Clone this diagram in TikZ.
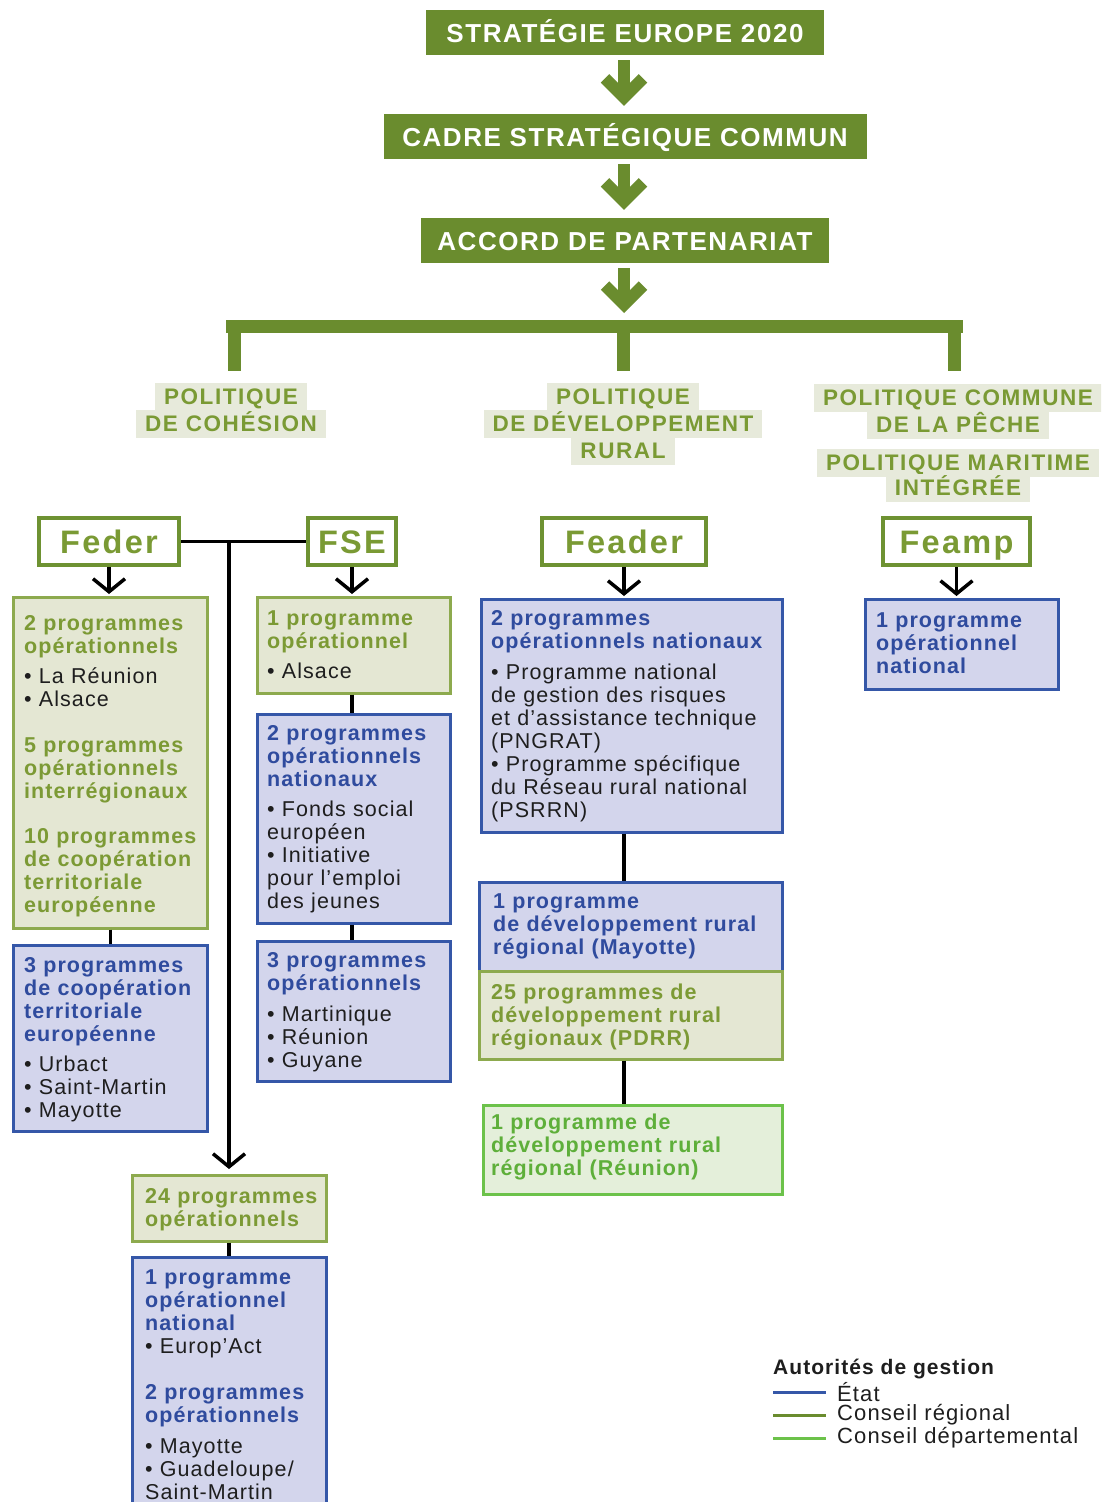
\documentclass[tikz,border=0pt]{standalone}
\usepackage{fontspec}
\setmainfont{Liberation Sans}
\newfontfamily\trk[LetterSpace=5]{Liberation Sans}
\newfontfamily\hdrf[LetterSpace=6]{Liberation Sans}
\newfontfamily\polf[LetterSpace=7]{Liberation Sans}
\usetikzlibrary{arrows.meta}
\definecolor{hdr}{HTML}{6A8C2E}
\definecolor{gtxt}{HTML}{7A9A34}
\definecolor{polbg}{HTML}{E7EADB}
\definecolor{fundline}{HTML}{6E9232}
\definecolor{regfill}{HTML}{E4E7D3}
\definecolor{regline}{HTML}{8DAA4E}
\definecolor{regtxt}{HTML}{7C9A35}
\definecolor{bluefill}{HTML}{D3D5EC}
\definecolor{blueline}{HTML}{3557A8}
\definecolor{bluetxt}{HTML}{2F4B9E}
\definecolor{depfill}{HTML}{E4EFDA}
\definecolor{depline}{HTML}{6CC24A}
\definecolor{deptxt}{HTML}{5EAF3A}
\definecolor{itemtxt}{HTML}{1E1E1E}
\newcommand\bxf{\trk\fontsize{21.5}{23}\selectfont}
\newcommand\regh[1]{{\color{regtxt}\bfseries #1}}
\newcommand\blueh[1]{{\color{bluetxt}\bfseries #1}}
\newcommand\deph[1]{{\color{deptxt}\bfseries #1}}
\begin{document}
\begin{tikzpicture}[x=1pt,y=-1pt,
  hdrbox/.style={fill=hdr, text=white, font=\hdrf\bfseries\fontsize{26}{26}\selectfont, minimum height=45pt, text height=19pt, text depth=0pt, inner sep=0pt},
  polbox/.style={fill=polbg, text=gtxt, font=\polf\bfseries\fontsize{22.5}{24}\selectfont, inner xsep=9pt, inner ysep=6pt, text height=15.5pt, text depth=0pt},
  fundbox/.style={draw=fundline, fill=white, line width=4pt, text=gtxt, font=\polf\bfseries\fontsize{32.5}{32}\selectfont, minimum height=47pt, text height=23pt, text depth=0pt, inner sep=0pt},
  regbox/.style={draw=regline, fill=regfill, line width=2.5pt, inner sep=0pt, anchor=north west},
  bluebox/.style={draw=blueline, fill=bluefill, line width=2.5pt, inner sep=0pt, anchor=north west},
  depbox/.style={draw=depline, fill=depfill, line width=2.5pt, inner sep=0pt, anchor=north west},
  txt/.style={anchor=base west, inner sep=0pt, align=left, text width=#1, font=\bxf, text=itemtxt},
  bigarr/.style={draw=hdr, line width=12pt, -{Straight Barb[length=19pt, width=38pt, sharp]}, shorten <=5pt, shorten >=8pt},
  conn/.style={draw=black, line width=3.5pt},
  blkarr/.style={draw=black, line width=3.5pt, -{Straight Barb[length=13pt, width=32pt, sharp]}},
  legtxt/.style={anchor=west, inner sep=0pt, font=\trk\fontsize{22}{23}\selectfont, text=itemtxt}
]
\useasboundingbox (0,0) rectangle (1101,1502);
\clip (0,0) rectangle (1101,1502);
\fill[white] (0,0) rectangle (1101,1502);

% headers
\node[hdrbox, minimum width=398pt] (s1) at (625,32.5) {STRATÉGIE EUROPE 2020};
\node[hdrbox, minimum width=483pt] (s2) at (625,136.5) {CADRE STRATÉGIQUE COMMUN};
\node[hdrbox, minimum width=408pt] (s3) at (625,240.5) {ACCORD DE PARTENARIAT};
\coordinate (bar) at (624,320);
\draw[bigarr] (s1.south -| bar) -- (s2.north -| bar);
\draw[bigarr] (s2.south -| bar) -- (s3.north -| bar);
\draw[bigarr, shorten >=7pt] (s3.south -| bar) -- (bar);
\draw[hdr, line width=13pt] (226,326.5) -- (963,326.5);
\coordinate (d1) at (234.5,371);
\coordinate (d2) at (623.5,371);
\coordinate (d3) at (954.5,371);
\draw[hdr, line width=13pt] (234.5,320) -- (d1);
\draw[hdr, line width=13pt] (623.5,320) -- (d2);
\draw[hdr, line width=13pt] (954.5,320) -- (d3);

% policies
\node[polbox] (pc1) at (231,397) {POLITIQUE};
\node[polbox] (pc2) at (231,424) {DE COHÉSION};
\node[polbox] (pr1) at (623,397) {POLITIQUE};
\node[polbox] (pr2) at (623,424) {DE DÉVELOPPEMENT};
\node[polbox] (pr3) at (623,451) {RURAL};
\node[polbox] (pp1) at (958,398) {POLITIQUE COMMUNE};
\node[polbox] (pp2) at (958,425) {DE LA PÊCHE};
\node[polbox] (pm1) at (958,463) {POLITIQUE MARITIME};
\node[polbox] (pm2) at (958,488) {INTÉGRÉE};

% funds
\node[fundbox, minimum width=140pt] (feder) at (109,541.5) {Feder};
\node[fundbox, minimum width=88pt] (fse) at (352,541.5) {FSE};
\node[fundbox, minimum width=164pt] (feader) at (624,541.5) {Feader};
\node[fundbox, minimum width=147pt] (feamp) at (956.5,541.5) {Feamp};

% boxes
\node[regbox, minimum width=194pt, minimum height=331pt] (L1) at (12,596) {};
\node[bluebox, minimum width=194pt, minimum height=186pt] (L2) at (12,944) {};
\node[regbox, minimum width=193pt, minimum height=96pt] (F1) at (256,596) {};
\node[bluebox, minimum width=193pt, minimum height=209pt] (F2) at (256,713) {};
\node[bluebox, minimum width=193pt, minimum height=140pt] (F3) at (256,940) {};
\node[regbox, minimum width=194pt, minimum height=66pt] (B1) at (131,1174) {};
\node[bluebox, minimum width=194pt, minimum height=260pt] (B2) at (131,1256) {};
\node[bluebox, minimum width=301pt, minimum height=233pt] (D1) at (480,598) {};
\node[bluebox, minimum width=303pt, minimum height=89pt] (D2) at (478,881) {};
\node[regbox, minimum width=303pt, minimum height=88pt] (D3) at (478,970) {};
\node[depbox, minimum width=299pt, minimum height=89pt] (D4) at (482,1104) {};
\node[bluebox, minimum width=193pt, minimum height=90pt] (P1) at (864,598) {};

% connectors
\draw[blkarr, shorten >=2pt] (feder.south) -- (L1.north -| feder);
\draw[blkarr, shorten >=2pt] (fse.south) -- (F1.north -| fse);
\draw[blkarr, shorten >=2pt] (feader.south) -- (D1.north -| feader);
\draw[blkarr, shorten >=2pt] (feamp.south) -- (P1.north -| feamp);
\draw[conn] (feder.east) -- (fse.west);
\coordinate (jn) at (229,541.5);
\draw[blkarr, shorten >=5pt] (jn) -- (B1.north -| jn);
\draw[conn] (L1.south) -- (L2.north);
\draw[conn] (F1.south -| fse) -- (F2.north -| fse);
\draw[conn] (F2.south -| fse) -- (F3.north -| fse);
\draw[conn] (B1.south -| jn) -- (B2.north -| jn);
\draw[conn] (D1.south -| feader) -- (D2.north -| feader);
\draw[conn] (D3.south -| feader) -- (D4.north -| feader);

% texts
\node[txt=185pt] (tL1) at (24,630) {\regh{2 programmes\\opérationnels}\\[7pt]• La Réunion\\• Alsace\\[23pt]\regh{5 programmes\\opérationnels\\interrégionaux}\\[22pt]\regh{10 programmes\\de coopération\\territoriale\\européenne}};
\node[txt=185pt] (tL2) at (24,972) {\blueh{3 programmes\\de coopération\\territoriale\\européenne}\\[7pt]• Urbact\\• Saint-Martin\\• Mayotte};
\node[txt=185pt] (tF1) at (267,625) {\regh{1 programme\\opérationnel}\\[7pt]• Alsace};
\node[txt=185pt] (tF2) at (267,740) {\blueh{2 programmes\\opérationnels\\nationaux}\\[7pt]• Fonds social\\européen\\• Initiative\\pour l’emploi\\des jeunes};
\node[txt=185pt] (tF3) at (267,967) {\blueh{3 programmes\\opérationnels}\\[8pt]• Martinique\\• Réunion\\• Guyane};
\node[txt=185pt] (tB1) at (145,1203) {\regh{24 programmes\\opérationnels}};
\node[txt=185pt] (tB2) at (145,1284) {\blueh{1 programme\\opérationnel\\national}\\• Europ’Act\\[23pt]\blueh{2 programmes\\opérationnels}\\[8pt]• Mayotte\\• Guadeloupe/\\Saint-Martin};
\node[txt=288pt] (tD1) at (491,625) {\blueh{2 programmes\\opérationnels nationaux}\\[8pt]• Programme national\\de gestion des risques\\et d’assistance technique\\(PNGRAT)\\• Programme spécifique\\du Réseau rural national\\(PSRRN)};
\node[txt=288pt] (tD2) at (493,908) {\blueh{1 programme\\de développement rural\\régional (Mayotte)}};
\node[txt=288pt] (tD3) at (491,999) {\regh{25 programmes de\\développement rural\\régionaux (PDRR)}};
\node[txt=288pt] (tD4) at (491,1129) {\deph{1 programme de\\développement rural\\régional (Réunion)}};
\node[txt=185pt] (tP1) at (876,627) {\blueh{1 programme\\opérationnel\\national}};

% legend
\node[legtxt, font=\trk\bfseries\fontsize{21}{22}\selectfont] (lt) at (773,1369) {Autorités de gestion};
\coordinate (la) at (773,1392);
\coordinate (lb) at (773,1415);
\coordinate (lc) at (773,1438);
\node[legtxt] (l1) at (837,1392) {État};
\node[legtxt] (l2) at (837,1415) {Conseil régional};
\node[legtxt] (l3) at (837,1438) {Conseil départemental};
\draw[blueline, line width=3pt] (la) -- (la -| 826,0);
\draw[hdr, line width=3pt] (lb) -- (lb -| 826,0);
\draw[depline, line width=3pt] (lc) -- (lc -| 826,0);
\end{tikzpicture}
\end{document}
